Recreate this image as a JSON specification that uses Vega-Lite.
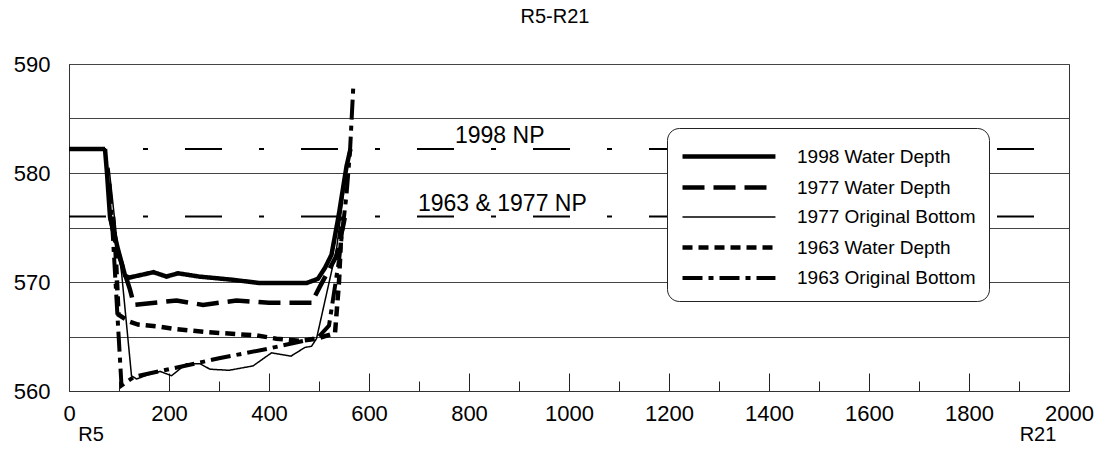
{
  "$schema": "https://vega.github.io/schema/vega-lite/v6.json",
  "width": 1000,
  "height": 327,
  "autosize": "none",
  "padding": {"left": 69, "top": 64, "right": 35, "bottom": 81},
  "background": "white",
  "title": {"text": "R5-R21", "font": "Liberation Sans", "fontSize": 20, "fontWeight": "normal", "color": "black", "offset": 26, "anchor": "middle", "dx": -14},
  "config": {
    "view": {"stroke": "#333", "strokeWidth": 1},
    "font": "Liberation Sans",
    "axis": {"labelFont": "Liberation Sans", "labelColor": "black", "domainColor": "#333"}
  },
  "datasets": {
    "profiles": [
      {"series": "1998 Water Depth", "x": 0, "y": 582.2},
      {"series": "1998 Water Depth", "x": 72, "y": 582.2},
      {"series": "1998 Water Depth", "x": 76, "y": 580},
      {"series": "1998 Water Depth", "x": 82, "y": 576},
      {"series": "1998 Water Depth", "x": 98, "y": 573},
      {"series": "1998 Water Depth", "x": 112, "y": 570.6},
      {"series": "1998 Water Depth", "x": 120, "y": 570.4},
      {"series": "1998 Water Depth", "x": 169, "y": 570.9},
      {"series": "1998 Water Depth", "x": 195, "y": 570.5},
      {"series": "1998 Water Depth", "x": 218, "y": 570.8},
      {"series": "1998 Water Depth", "x": 260, "y": 570.5},
      {"series": "1998 Water Depth", "x": 328, "y": 570.2},
      {"series": "1998 Water Depth", "x": 382, "y": 569.9},
      {"series": "1998 Water Depth", "x": 475, "y": 569.9},
      {"series": "1998 Water Depth", "x": 498, "y": 570.3},
      {"series": "1998 Water Depth", "x": 512, "y": 571.3},
      {"series": "1998 Water Depth", "x": 525, "y": 572.5},
      {"series": "1998 Water Depth", "x": 539, "y": 576},
      {"series": "1998 Water Depth", "x": 555, "y": 580.6},
      {"series": "1998 Water Depth", "x": 563, "y": 582.2},
      {"series": "1977 Water Depth", "x": 82, "y": 576},
      {"series": "1977 Water Depth", "x": 96, "y": 573},
      {"series": "1977 Water Depth", "x": 122, "y": 569.3},
      {"series": "1977 Water Depth", "x": 130, "y": 567.9},
      {"series": "1977 Water Depth", "x": 215, "y": 568.3},
      {"series": "1977 Water Depth", "x": 268, "y": 567.9},
      {"series": "1977 Water Depth", "x": 335, "y": 568.3},
      {"series": "1977 Water Depth", "x": 400, "y": 568.1},
      {"series": "1977 Water Depth", "x": 488, "y": 568.1},
      {"series": "1977 Water Depth", "x": 492, "y": 568.7},
      {"series": "1977 Water Depth", "x": 502, "y": 569.6},
      {"series": "1977 Water Depth", "x": 535, "y": 572.4},
      {"series": "1977 Water Depth", "x": 548, "y": 575.1},
      {"series": "1977 Water Depth", "x": 552, "y": 576},
      {"series": "1977 Original Bottom", "x": 80, "y": 580.5},
      {"series": "1977 Original Bottom", "x": 95, "y": 574.2},
      {"series": "1977 Original Bottom", "x": 105, "y": 570.9},
      {"series": "1977 Original Bottom", "x": 125, "y": 561.4},
      {"series": "1977 Original Bottom", "x": 135, "y": 561.1},
      {"series": "1977 Original Bottom", "x": 159, "y": 561.5},
      {"series": "1977 Original Bottom", "x": 182, "y": 561.8},
      {"series": "1977 Original Bottom", "x": 205, "y": 561.4},
      {"series": "1977 Original Bottom", "x": 235, "y": 562.5},
      {"series": "1977 Original Bottom", "x": 262, "y": 562.5},
      {"series": "1977 Original Bottom", "x": 282, "y": 562},
      {"series": "1977 Original Bottom", "x": 320, "y": 561.9},
      {"series": "1977 Original Bottom", "x": 368, "y": 562.3},
      {"series": "1977 Original Bottom", "x": 405, "y": 563.5},
      {"series": "1977 Original Bottom", "x": 444, "y": 563.2},
      {"series": "1977 Original Bottom", "x": 472, "y": 564},
      {"series": "1977 Original Bottom", "x": 485, "y": 564.1},
      {"series": "1977 Original Bottom", "x": 495, "y": 564.8},
      {"series": "1977 Original Bottom", "x": 535, "y": 573},
      {"series": "1977 Original Bottom", "x": 560, "y": 582.2},
      {"series": "1963 Water Depth", "x": 88, "y": 576},
      {"series": "1963 Water Depth", "x": 92, "y": 574},
      {"series": "1963 Water Depth", "x": 99, "y": 567},
      {"series": "1963 Water Depth", "x": 119, "y": 566.4},
      {"series": "1963 Water Depth", "x": 138, "y": 566.1},
      {"series": "1963 Water Depth", "x": 182, "y": 565.9},
      {"series": "1963 Water Depth", "x": 209, "y": 565.7},
      {"series": "1963 Water Depth", "x": 275, "y": 565.4},
      {"series": "1963 Water Depth", "x": 342, "y": 565.2},
      {"series": "1963 Water Depth", "x": 375, "y": 565.1},
      {"series": "1963 Water Depth", "x": 415, "y": 564.8},
      {"series": "1963 Water Depth", "x": 462, "y": 564.6},
      {"series": "1963 Water Depth", "x": 495, "y": 564.8},
      {"series": "1963 Water Depth", "x": 532, "y": 565.3},
      {"series": "1963 Water Depth", "x": 540, "y": 570},
      {"series": "1963 Water Depth", "x": 546, "y": 576},
      {"series": "1963 Original Bottom", "x": 81, "y": 579},
      {"series": "1963 Original Bottom", "x": 88, "y": 574},
      {"series": "1963 Original Bottom", "x": 105, "y": 560.5},
      {"series": "1963 Original Bottom", "x": 130, "y": 561.3},
      {"series": "1963 Original Bottom", "x": 200, "y": 562},
      {"series": "1963 Original Bottom", "x": 300, "y": 563},
      {"series": "1963 Original Bottom", "x": 400, "y": 563.9},
      {"series": "1963 Original Bottom", "x": 498, "y": 564.9},
      {"series": "1963 Original Bottom", "x": 520, "y": 566},
      {"series": "1963 Original Bottom", "x": 540, "y": 572},
      {"series": "1963 Original Bottom", "x": 555, "y": 578},
      {"series": "1963 Original Bottom", "x": 562, "y": 582},
      {"series": "1963 Original Bottom", "x": 569, "y": 588.3}
    ],
    "np": [
      {"level": "1998 NP", "x": 0, "y": 582.2},
      {"level": "1998 NP", "x": 2000, "y": 582.2},
      {"level": "1963 & 1977 NP", "x": 0, "y": 576},
      {"level": "1963 & 1977 NP", "x": 2000, "y": 576}
    ],
    "nplabels": [
      {"label": "1998 NP", "x": 772, "y": 582.2},
      {"label": "1963 & 1977 NP", "x": 698, "y": 576}
    ],
    "ends": [
      {"label": "R5", "x": 44, "y": 560},
      {"label": "R21", "x": 1938, "y": 560}
    ]
  },
  "encoding": {
    "x": {
      "field": "x", "type": "quantitative",
      "scale": {"domain": [0, 2000], "nice": false, "zero": false},
      "axis": {
        "title": null,
        "values": [0,100,200,300,400,500,600,700,800,900,1000,1100,1200,1300,1400,1500,1600,1700,1800,1900,2000],
        "format": "d",
        "labelExpr": "datum.value % 200 === 0 ? datum.label : ''",
        "ticks": false,
        "grid": true,
        "gridColor": "#222",
        "gridOpacity": 1,
        "gridWidth": 1,
        "gridDash": {"condition": {"test": "datum.value % 200 === 0", "value": [0, 309, 18, 2000]}, "value": [0, 317, 10, 2000]},
        "labelFontSize": 22,
        "labelPadding": 12,
        "labelFlush": false,
        "labelOverlap": false
      }
    },
    "y": {
      "field": "y", "type": "quantitative",
      "scale": {"domain": [560, 590], "nice": false, "zero": false},
      "axis": {
        "title": null,
        "values": [560,565,570,575,580,585,590],
        "labelExpr": "datum.value % 10 === 0 ? datum.label : ''",
        "ticks": false,
        "grid": true,
        "gridColor": "#444",
        "gridOpacity": 1,
        "gridWidth": 1,
        "labelFontSize": 22,
        "labelPadding": 19,
        "labelOverlap": false
      }
    }
  },
  "layer": [
    {
      "data": {"name": "np"},
      "mark": {"type": "line", "color": "black", "strokeWidth": 2, "strokeDash": [37, 37, 5, 37]},
      "encoding": {"detail": {"field": "level", "type": "nominal"}}
    },
    {
      "data": {"name": "nplabels"},
      "mark": {"type": "text", "align": "left", "baseline": "alphabetic", "dy": -6, "fontSize": 23, "font": "Liberation Sans", "color": "black"},
      "encoding": {"text": {"field": "label", "type": "nominal"}}
    },
    {
      "data": {"name": "profiles"},
      "mark": {"type": "line", "color": "black", "strokeCap": "butt", "strokeJoin": "miter"},
      "encoding": {
        "strokeDash": {
          "field": "series", "type": "nominal",
          "scale": {
            "domain": ["1998 Water Depth", "1977 Water Depth", "1977 Original Bottom", "1963 Water Depth", "1963 Original Bottom"],
            "range": [[1, 0], [22, 9], [1, 0], [10, 6], [20, 6, 5, 6]]
          },
          "legend": {
            "title": null,
            "orient": "none",
            "legendX": 598,
            "legendY": 64,
            "padding": 13,
            "fillColor": "white",
            "strokeColor": "#222",
            "cornerRadius": 12,
            "symbolType": "M-1,0H6.15",
            "symbolSize": 676,
            "symbolStrokeColor": "black",
            "labelFontSize": 19,
            "labelFont": "Liberation Sans",
            "labelColor": "black",
            "labelOffset": 86,
            "rowPadding": 5,
            "labelLimit": 400
          }
        },
        "strokeWidth": {
          "field": "series", "type": "nominal",
          "scale": {
            "type": "ordinal",
            "domain": ["1998 Water Depth", "1977 Water Depth", "1977 Original Bottom", "1963 Water Depth", "1963 Original Bottom"],
            "range": [4.5, 4.5, 1.5, 4.5, 4]
          }
        }
      }
    },
    {
      "data": {"name": "ends"},
      "mark": {"type": "text", "align": "center", "baseline": "top", "dy": 34, "fontSize": 20, "font": "Liberation Sans", "color": "black"},
      "encoding": {"text": {"field": "label", "type": "nominal"}}
    }
  ]
}
